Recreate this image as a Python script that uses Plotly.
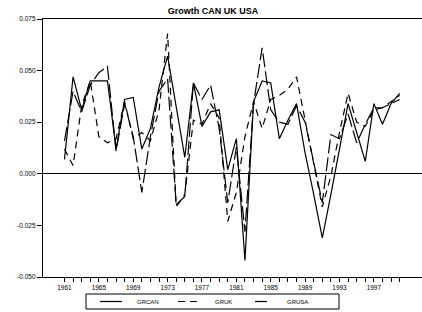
import plotly.graph_objects as go

years = list(range(1961, 2001))

grcan = [0.007, 0.047, 0.031, 0.045, 0.045, 0.045, 0.012, 0.036, 0.037, 0.012,
         0.022, 0.042, 0.057, 0.033, 0.008, 0.044, 0.023, 0.030, 0.031, 0.002,
         0.017, -0.042, 0.035, 0.045, 0.044, 0.017, 0.026, 0.034, 0.010, -0.010,
         -0.031, -0.010, 0.013, 0.034, 0.020, 0.006, 0.034, 0.024, 0.034, 0.039]

gruk = [0.012, 0.004, 0.033, 0.045, 0.018, 0.015, 0.017, 0.035, 0.017, 0.020,
        0.016, 0.031, 0.068, -0.016, -0.010, 0.026, 0.024, 0.034, 0.027, -0.023,
        -0.009, 0.018, 0.035, 0.022, 0.036, 0.038, 0.041, 0.047, 0.026, 0.005,
        -0.016, -0.001, 0.020, 0.039, 0.025, 0.023, 0.031, 0.032, 0.035, 0.038]

grusa = [0.016, 0.040, 0.030, 0.043, 0.049, 0.052, 0.011, 0.034, 0.018, -0.009,
         0.018, 0.040, 0.046, -0.015, -0.011, 0.044, 0.036, 0.043, 0.022, -0.014,
         0.013, -0.028, 0.034, 0.061, 0.031, 0.025, 0.024, 0.033, 0.025, 0.006,
         -0.014, 0.019, 0.017, 0.029, 0.015, 0.024, 0.032, 0.032, 0.034, 0.036]

series_names = ["GRCAN", "GRUK", "GRUSA"]
x_ticktext = [str(y) if (y - 1961) % 4 == 0 and y <= 1997 else "" for y in years]
y_tickvals = [-0.050, -0.025, 0.000, 0.025, 0.050, 0.075]
y_ticktext = ["-0.050", "-0.025", "0.000", "0.025", "0.050", "0.075"]

dashes = ["solid", "7px,5px", "14px,4px"]

fig = go.Figure()
for name, vals, dash in zip(series_names, [grcan, gruk, grusa], dashes):
    fig.add_trace(go.Scatter(x=years, y=vals, mode="lines", name=name,
                             showlegend=False,
                             line=dict(color="black", width=1.2, dash=dash)))

# Hand-drawn legend box (below the plot), in paper coordinates
L, W, T, H = 43, 379, 19, 258
def px(xp):
    return (xp - L) / W
def py(yp):
    return (T + H - yp) / H

shapes = [dict(type="rect", xref="paper", yref="paper",
               x0=px(86), x1=px(339), y0=py(309), y1=py(294),
               line=dict(color="black", width=1), fillcolor="white")]
annotations = []
sample_x = [(100, 122), (178, 200), (255, 267)]
text_x = [135, 213, 285]
ymid = py(301.5)
for name, dash, (a, b), tx in zip(series_names, dashes, sample_x, text_x):
    shapes.append(dict(type="line", xref="paper", yref="paper",
                       x0=px(a), x1=px(b), y0=ymid, y1=ymid,
                       line=dict(color="black", width=1.2, dash=dash)))
    annotations.append(dict(text=name, xref="paper", yref="paper",
                            x=px(tx), y=ymid, xanchor="left", yanchor="middle",
                            showarrow=False, font=dict(size=6)))

fig.update_layout(
    width=422, height=312,
    margin=dict(l=43, r=0, t=19, b=35, autoexpand=False),
    paper_bgcolor="white", plot_bgcolor="white",
    font=dict(family="Liberation Sans, Arial, sans-serif", size=7, color="black"),
    title=dict(text="<b>Growth CAN UK USA</b>", x=0.505, xanchor="center",
               y=1 - 11 / 312, yanchor="middle", yref="container",
               font=dict(size=9, family="Liberation Sans, Arial, sans-serif")),
    showlegend=False,
    shapes=shapes,
    annotations=annotations,
)
fig.update_xaxes(range=[1958.5, 2002.6], tickmode="array", tickvals=years,
                 ticktext=x_ticktext, ticks="outside", ticklen=4, tickwidth=1,
                 tickcolor="black", showline=True, linecolor="black", linewidth=1.2,
                 mirror=True, showgrid=False, zeroline=False, tickangle=0,
                 tickfont=dict(size=6.5))
fig.update_yaxes(range=[-0.05, 0.075], tickmode="array", tickvals=y_tickvals,
                 ticktext=y_ticktext, ticks="outside", ticklen=5, tickwidth=1,
                 tickcolor="black", showline=True, linecolor="black", linewidth=1.2,
                 showgrid=False, zeroline=True, zerolinecolor="black",
                 zerolinewidth=1.2, tickfont=dict(size=6.5))

fig.write_html("out.html", config={"displayModeBar": False},
               post_script="document.body.style.margin='0';document.body.style.overflow='hidden';")
